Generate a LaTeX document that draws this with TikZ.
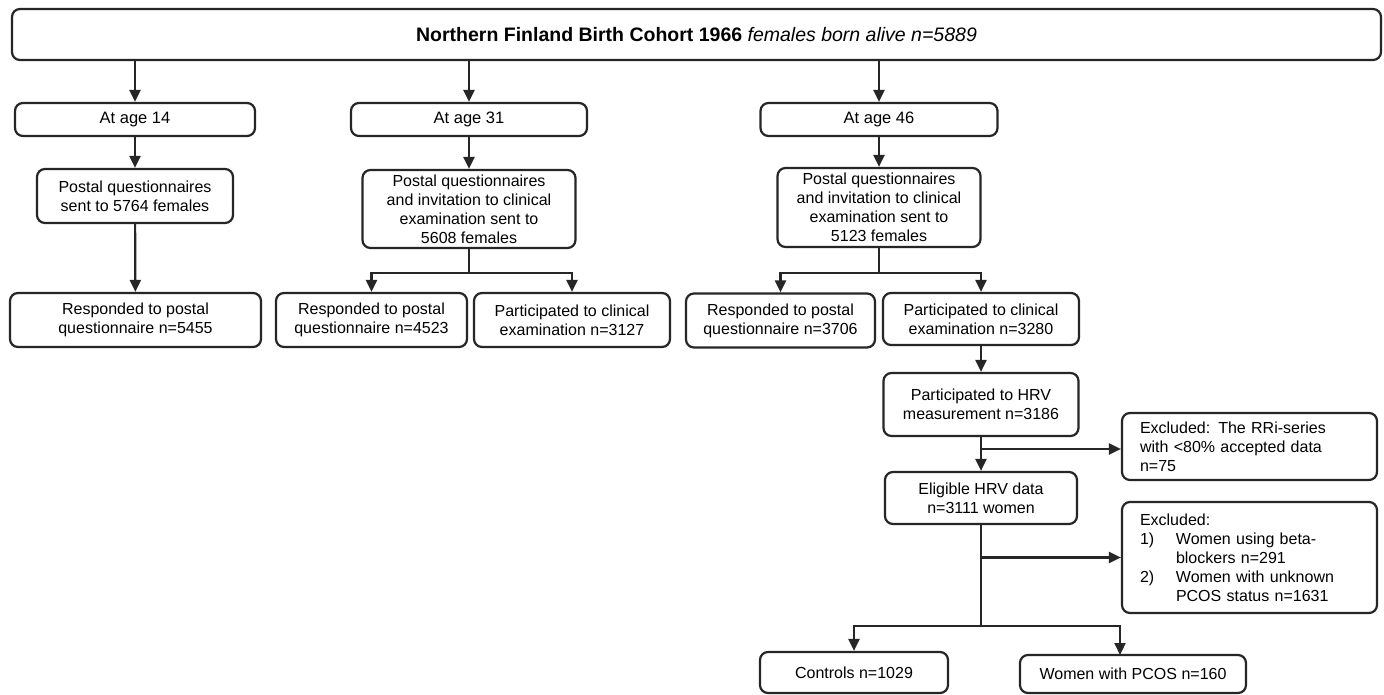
\documentclass[tikz,border=0pt]{standalone}
\usepackage{fontspec}
\setmainfont{Liberation Sans}
\usetikzlibrary{arrows.meta}
\begin{document}
\begin{tikzpicture}[x=1pt,y=-1pt,
  box/.style={draw=black!85, line width=2.2pt, rounded corners=8pt, inner sep=0pt,
    align=center, font=\fontsize{16}{19}\selectfont, fill=white},
  exbox/.style={box, align=left, inner xsep=18pt, text width=219pt},
  conn/.style={draw=black!85, line width=2.2pt},
  arr/.style={conn, -{Triangle[length=12pt,width=11pt]}}]
\useasboundingbox (0,0) rectangle (1384,695);
\fill[white] (0,0) rectangle (1384,695);

\node[box, minimum width=1369pt, minimum height=51pt, font=\fontsize{19.5}{23}\selectfont] (top) at (696.5,34.5)
  {\textbf{Northern Finland Birth Cohort 1966} \textit{females born alive n=5889}};

\node[box, minimum width=240pt, minimum height=33pt, font=\fontsize{16.5}{19}\selectfont] (a14) at (135,119.5) {At age 14};
\node[box, minimum width=236pt, minimum height=33pt, font=\fontsize{16.5}{19}\selectfont] (a31) at (469,119.5) {At age 31};
\node[box, minimum width=237pt, minimum height=33pt, font=\fontsize{16.5}{19}\selectfont] (a46) at (879,119.5) {At age 46};

\node[box, minimum width=196pt, minimum height=54pt] (p14) at (135,196) {Postal questionnaires\\sent to 5764 females};
\node[box, minimum width=213pt, minimum height=78pt] (p31) at (469,209) {Postal questionnaires\\and invitation to clinical\\examination sent to\\5608 females};
\node[box, minimum width=203pt, minimum height=79pt] (p46) at (879,207.5) {Postal questionnaires\\and invitation to clinical\\examination sent to\\5123 females};

\node[box, minimum width=251pt, minimum height=54pt] (r14) at (135.5,320) {Responded to postal\\questionnaire n=5455};
\node[box, minimum width=191pt, minimum height=54pt] (r31) at (371.5,320) {Responded to postal\\questionnaire n=4523};
\node[box, minimum width=196pt, minimum height=54pt] (c31) at (572,320) {Participated to clinical\\examination n=3127};
\node[box, minimum width=189pt, minimum height=54pt] (r46) at (780.5,320.5) {Responded to postal\\questionnaire n=3706};
\node[box, minimum width=196pt, minimum height=52pt] (c46) at (981,319) {Participated to clinical\\examination n=3280};

\node[box, minimum width=195pt, minimum height=63pt] (hrv) at (981,404.5) {Participated to HRV\\measurement n=3186};
\node[box, minimum width=192pt, minimum height=52pt] (elig) at (981,498) {Eligible HRV data\\n=3111 women};

\node[exbox, minimum width=255pt, minimum height=67pt] (ex1) at (1249.5,446.5)
  {Excluded: The RRi-series\\with <80\% accepted data\\n=75};
\node[exbox, minimum width=255pt, minimum height=111pt] (ex2) at (1249.5,557.5)
  {Excluded:\\\makebox[36pt][l]{1)}Women using beta-\\\hspace*{36pt}blockers n=291\\\makebox[36pt][l]{2)}Women with unknown\\\hspace*{36pt}PCOS status n=1631};

\node[box, minimum width=188pt, minimum height=41pt] (ctrl) at (854,672.5) {Controls n=1029};
\node[box, minimum width=226pt, minimum height=38pt] (pcos) at (1133,674) {Women with PCOS n=160};

% arrows from top
\draw[arr] (top.south -| a14.north) -- (a14.north);
\draw[arr] (top.south -| a31.north) -- (a31.north);
\draw[arr] (top.south -| a46.north) -- (a46.north);
\draw[arr] (a14) -- (p14);
\draw[arr] (a31) -- (p31);
\draw[arr] (a46) -- (p46);
\draw[arr] (p14) -- (r14);

\coordinate (j31) at (469,273);
\draw[conn] (p31.south) -- (j31);
\draw[arr] (j31) -| (r31.north);
\draw[arr] (j31) -| (c31.north);

\coordinate (j46) at (879,273);
\draw[conn] (p46.south) -- (j46);
\draw[arr] (j46) -| (r46.north);
\draw[arr] (j46) -| (c46.north);

\draw[arr] (c46) -- (hrv);
\draw[arr] (hrv) -- (elig);
\coordinate (b1) at (981,449);
\draw[arr] (b1) -- (b1 -| ex1.west);

\coordinate (j3) at (981,626);
\draw[conn] (elig.south) -- (j3);
\coordinate (b2) at (981,557.5);
\draw[arr] (b2) -- (ex2.west);
\coordinate (pin) at (1120,655);
\draw[arr] (j3) -| (ctrl.north);
\draw[arr] (j3) -| (pin);
\end{tikzpicture}
\end{document}
